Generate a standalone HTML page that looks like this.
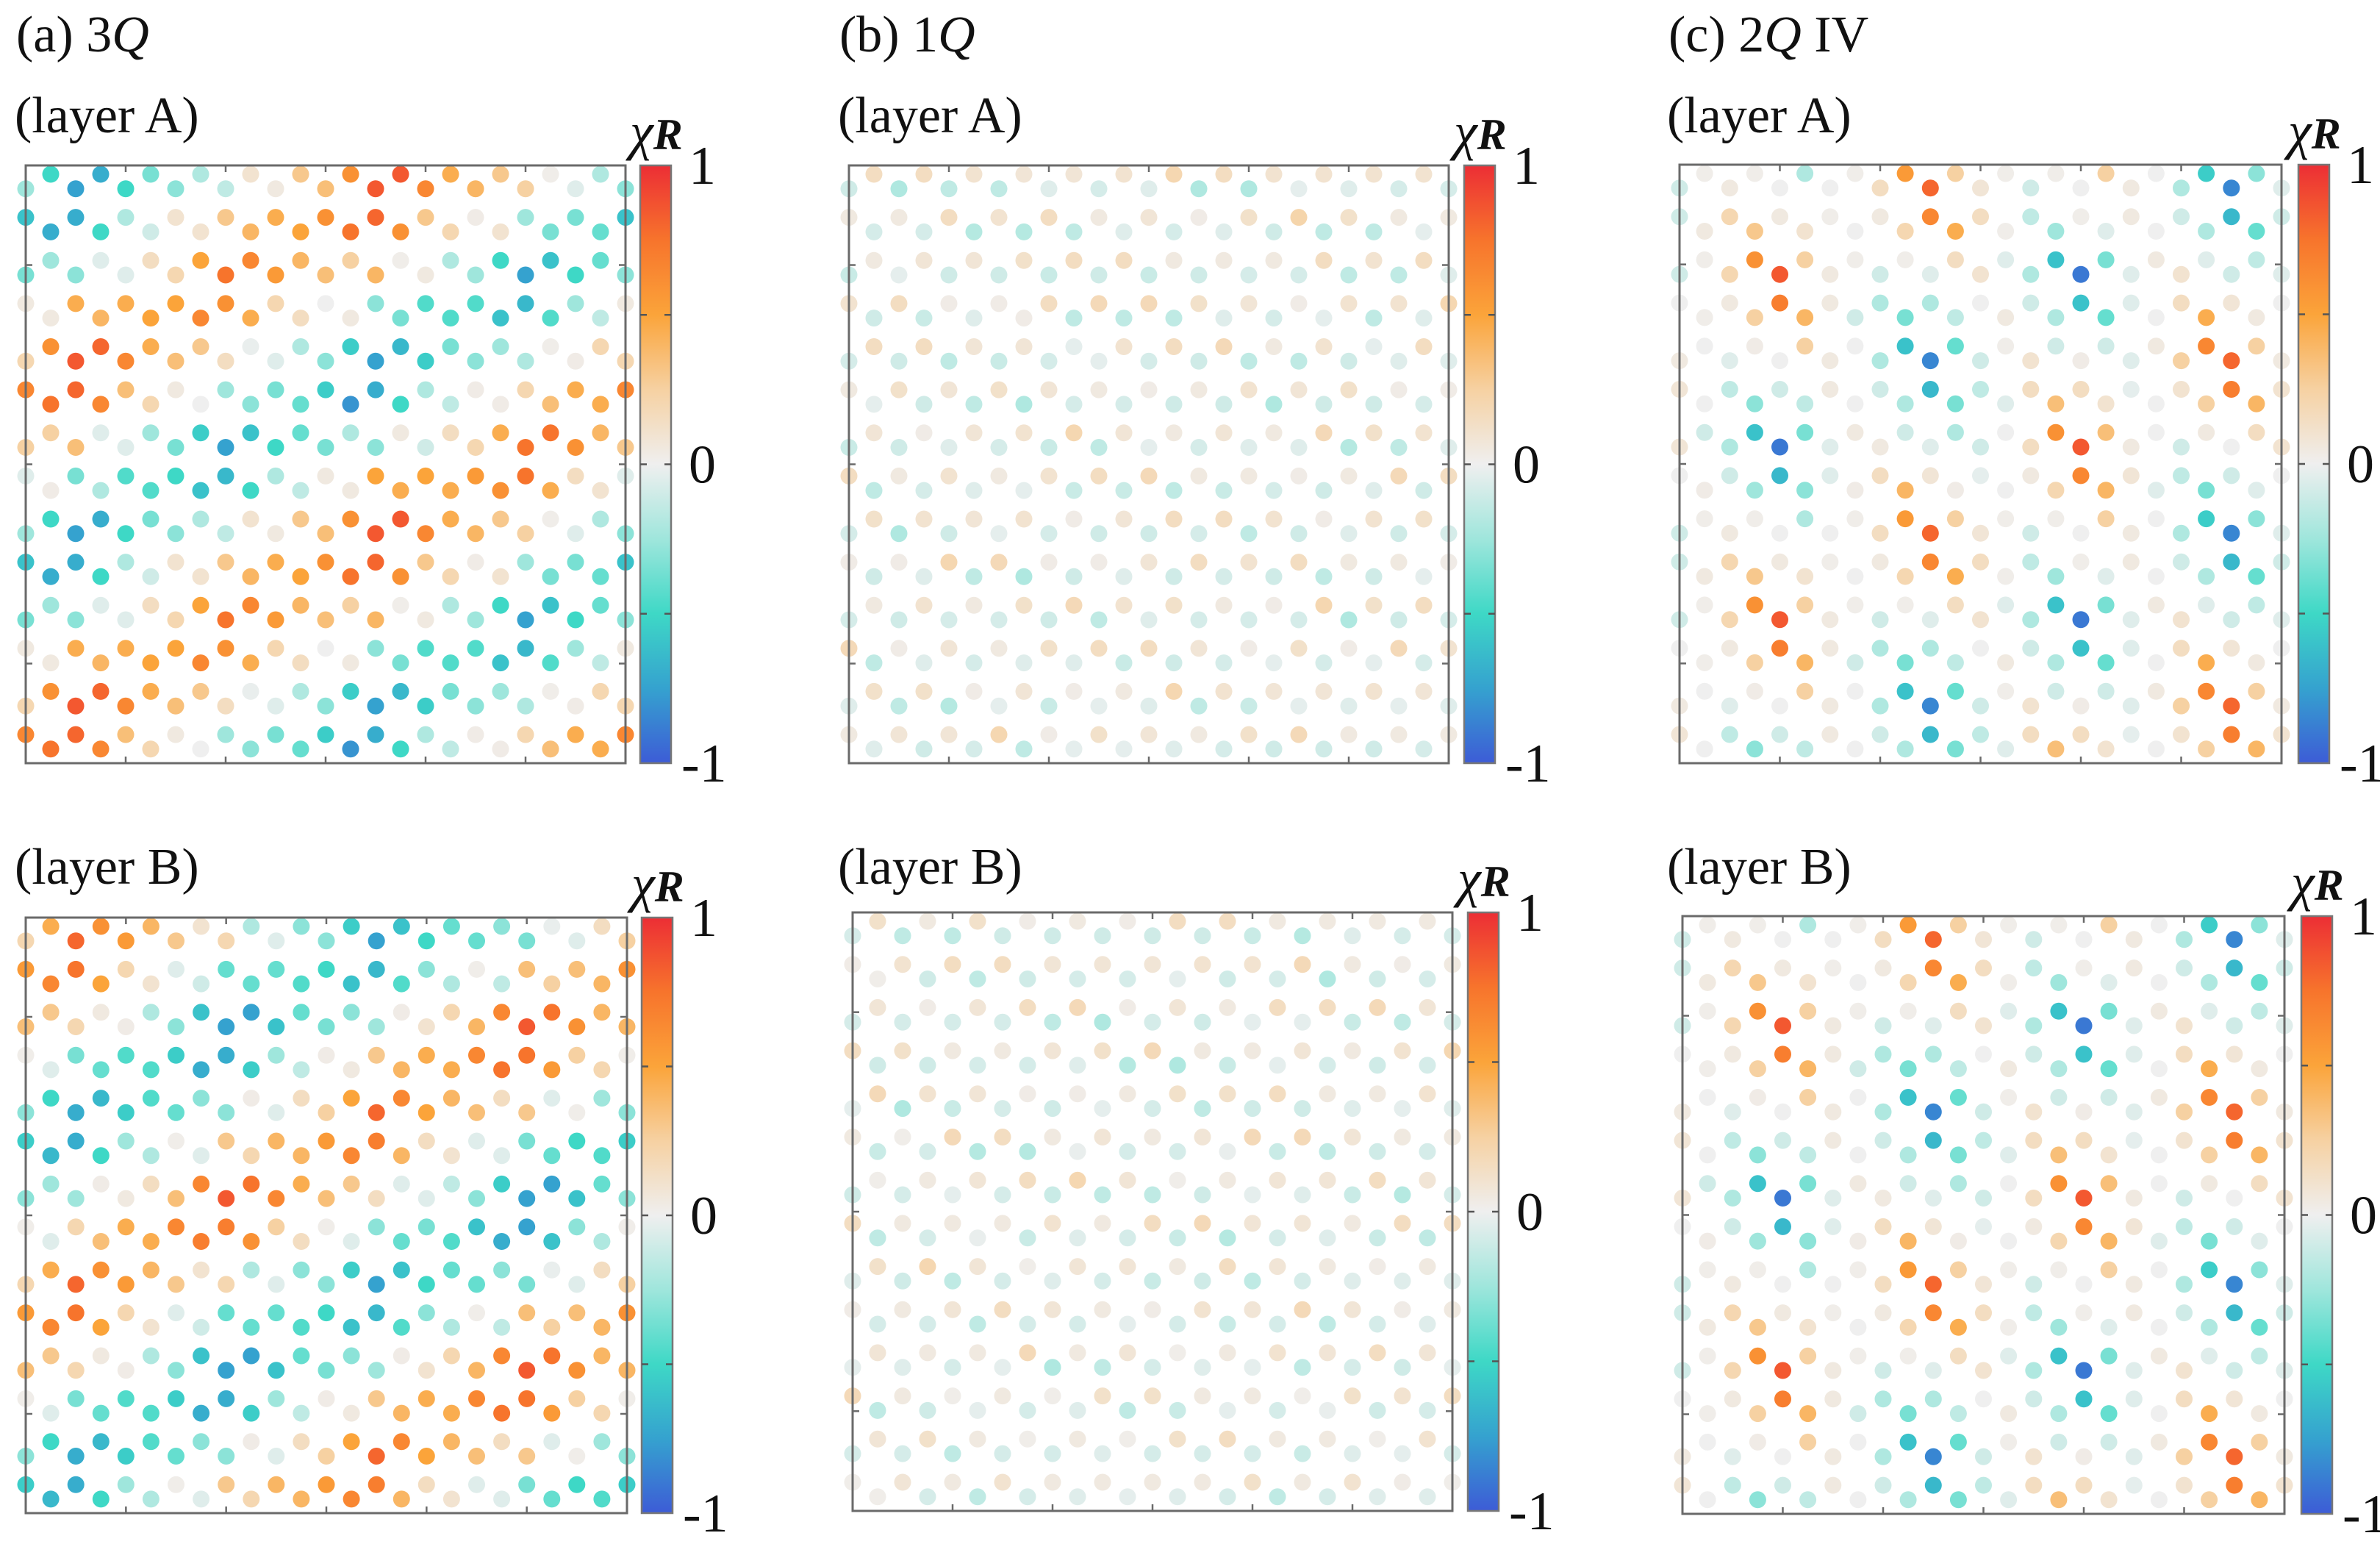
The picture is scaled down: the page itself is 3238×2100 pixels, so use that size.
<!DOCTYPE html>
<html><head><meta charset="utf-8"><style>
html,body{margin:0;padding:0;background:#fff;}
svg{display:block;}
text{font-family:"Liberation Serif",serif;fill:#111;}
</style></head><body>
<svg id="fig" width="3238" height="2100" viewBox="0 0 3238 2100" xmlns="http://www.w3.org/2000/svg">
<defs>
<linearGradient id="cmap" x1="0" y1="1" x2="0" y2="0">
<stop offset="0" stop-color="#3d5cd6"/><stop offset="0.125" stop-color="#35a2cf"/>
<stop offset="0.25" stop-color="#3ed8c6"/><stop offset="0.375" stop-color="#9fe6dc"/>
<stop offset="0.5" stop-color="#efefef"/><stop offset="0.625" stop-color="#f6d1a2"/>
<stop offset="0.75" stop-color="#fba43a"/><stop offset="0.875" stop-color="#f7742c"/>
<stop offset="1" stop-color="#ec2e35"/>
</linearGradient>
</defs>
<text x="22" y="70" font-size="70">(a) 3<tspan font-style="italic">Q</tspan></text>
<text x="1142" y="70" font-size="70">(b) 1<tspan font-style="italic">Q</tspan></text>
<text x="2270" y="70" font-size="70">(c) 2<tspan font-style="italic">Q</tspan> IV</text>
<g id="panels"></g>
</svg>
<script>
// ---- data: chi_R values per lattice row (odd rows of 12 / even rows of 13) ----
const rowsA3Q = [
[-0.5,-0.7,-0.35,-0.2,0.1,0.3,0.6,0.85,0.45,0.3,0.02,-0.2],
[-0.25,-0.75,-0.5,-0.3,-0.15,0.05,0.35,0.85,0.65,0.4,0.25,-0.05,-0.3],
[-0.6,-0.7,-0.2,0.1,0.3,0.45,0.6,0.8,0.3,0.03,-0.25,-0.35,-0.6],
[-0.7,-0.5,-0.1,0.1,0.4,0.5,0.75,0.6,0.2,0.1,-0.35,-0.4],
[-0.25,-0.05,0.15,0.5,0.65,0.4,0.25,0.02,-0.2,-0.5,-0.6,-0.4],
[-0.35,-0.3,-0.05,0.2,0.75,0.55,0.35,0.4,0.05,-0.25,-0.75,-0.5,-0.3],
[0.05,0.45,0.45,0.5,0.6,0.2,0.0,-0.3,-0.45,-0.45,-0.65,-0.25,0.05],
[0.05,0.4,0.5,0.65,0.45,0.15,0.05,-0.35,-0.45,-0.6,-0.45,-0.15],
[0.6,0.8,0.45,0.3,-0.02,-0.2,-0.55,-0.65,-0.35,-0.25,0.02,0.2],
[0.2,0.85,0.65,0.35,0.15,-0.05,-0.3,-0.75,-0.55,-0.3,-0.2,0.03,0.2],
[0.65,0.8,0.35,0.05,-0.25,-0.35,-0.55,-0.7,-0.2,0.03,0.2,0.45,0.65],
[0.75,0.65,0.2,0.0,-0.3,-0.4,-0.8,-0.5,-0.15,0.03,0.35,0.45],
[0.25,-0.05,-0.25,-0.55,-0.6,-0.4,-0.2,0.05,0.15,0.45,0.75,0.4],
[0.25,0.35,-0.05,-0.35,-0.75,-0.5,-0.35,-0.3,-0.1,0.2,0.75,0.6,0.3],
[-0.05,-0.35,-0.45,-0.5,-0.65,-0.2,0.05,0.5,0.5,0.55,0.75,0.15,-0.05],
[0.03,-0.2,-0.45,-0.6,-0.5,-0.15,0.05,0.45,0.45,0.6,0.45,0.1]
];
const rowsB3Q = [
[0.45,0.6,0.4,0.1,-0.2,-0.3,-0.55,-0.6,-0.4,-0.3,-0.02,0.15],
[0.2,0.8,0.55,0.3,0.2,-0.05,-0.3,-0.75,-0.5,-0.4,-0.35,-0.05,0.25],
[0.55,0.75,0.2,-0.05,-0.4,-0.4,-0.5,-0.65,-0.3,0.02,0.35,0.35,0.6],
[0.65,0.5,0.1,-0.1,-0.4,-0.45,-0.6,-0.45,-0.2,-0.15,0.25,0.4],
[0.3,0.05,-0.2,-0.6,-0.75,-0.4,-0.3,0.03,0.2,0.65,0.75,0.4],
[0.35,0.2,0.03,-0.3,-0.75,-0.6,-0.35,-0.25,0.1,0.4,0.85,0.6,0.4],
[0.02,-0.35,-0.45,-0.55,-0.7,-0.25,0.03,0.3,0.45,0.65,0.75,0.25,0.02],
[-0.05,-0.4,-0.45,-0.7,-0.55,-0.15,0.05,0.4,0.45,0.75,0.55,0.2],
[-0.5,-0.65,-0.45,-0.3,0.03,0.15,0.5,0.65,0.4,0.15,-0.05,-0.25],
[-0.3,-0.7,-0.55,-0.4,-0.3,-0.05,0.25,0.8,0.5,0.35,0.3,0.02,-0.3],
[-0.55,-0.7,-0.25,0.02,0.3,0.4,0.55,0.7,0.15,-0.05,-0.35,-0.5,-0.55],
[-0.65,-0.5,-0.2,-0.05,0.2,0.4,0.65,0.4,0.1,-0.05,-0.4,-0.45],
[-0.25,0.03,0.15,0.65,0.75,0.45,0.3,-0.05,-0.15,-0.55,-0.75,-0.4],
[-0.3,-0.25,0.05,0.35,0.85,0.65,0.35,0.15,-0.05,-0.3,-0.75,-0.6,-0.3],
[0.02,0.2,0.45,0.65,0.7,0.25,0.02,-0.3,-0.35,-0.6,-0.75,-0.3,0.02],
[-0.05,0.35,0.45,0.7,0.6,0.15,-0.05,-0.4,-0.45,-0.7,-0.6,-0.2]
];
const rowsA1Q = [
[.15,.15,.1,.08,.08,.1,.2,.15,.1,.1,.1,.1],
[-.1,-.2,-.15,-.15,-.05,-.08,-.05,-.2,-.2,-.03,-.05,-.08,-.08],
[.05,.05,.15,.1,.15,.05,.08,.03,.12,.22,.12,.05,.05],
[-.08,-.08,-.18,-.18,-.15,-.05,-.08,-.05,-.1,-.15,-.15,-.03],
[.05,.08,.08,.12,.15,.15,.05,.05,.05,.15,.1,.15],
[-.12,-.03,-.1,-.1,-.12,-.1,-.12,-.1,-.08,-.08,-.15,-.15,-.05],
[.1,.15,.03,.03,.15,.18,.18,.12,.08,.03,.1,.1,.2],
[-.1,-.12,-.05,.03,-.15,-.15,-.15,-.05,-.08,-.03,-.15,-.05],
[.15,.15,.08,.08,-.03,.1,.15,.18,.05,.1,-.03,.15],
[-.08,-.1,-.15,-.12,-.08,-.03,-.08,-.1,-.15,-.15,-.1,-.05,-.05],
[.05,.12,.08,.12,.08,.05,.03,.05,.1,.08,.12,.03,.03],
[-.03,-.1,-.15,-.2,-.08,-.08,-.1,-.1,-.2,-.1,-.1,-.08],
[.08,.03,.08,.1,.2,.08,.05,.08,.05,.18,.12,.1],
[-.12,-.1,-.05,-.08,-.12,-.15,-.03,-.08,-.05,-.05,-.18,-.15,-.05],
[.15,.05,.1,.05,.1,.15,.18,.05,.05,.03,.05,.18,.15],
[-.15,-.08,-.05,-.03,-.12,-.12,-.15,-.12,-.08,-.1,-.05,-.1],
[.12,.1,.08,.1,.03,.08,.15,.15,.1,.03,.1,.12],
[-.08,-.2,-.1,-.03,-.08,-.1,-.1,-.08,-.15,-.1,-.05,-.1,-.08],
[.03,.03,.2,.18,.03,.03,.08,.15,.1,.15,.05,.05,.03],
[-.1,-.05,-.15,-.2,-.1,-.05,-.1,-.08,-.1,-.15,-.1,-.03],
[.05,.1,.05,.12,.18,.1,.12,.05,.03,.2,.12,.15],
[-.08,-.1,-.08,-.08,-.1,-.15,-.05,-.08,-.08,-.08,-.2,-.1,-.08],
[.18,.03,.08,.05,.12,.15,.15,.08,.03,.12,.03,.18,.1],
[-.15,-.05,-.08,-.05,-.05,-.12,-.1,-.08,-.03,-.08,-.03,-.08],
[.12,.12,.03,.08,.03,.05,.2,.1,.08,.08,.1,.08],
[-.05,-.15,-.18,-.03,-.12,-.03,-.05,-.15,-.12,-.03,-.05,-.03,-.05],
[.05,.08,.08,.2,.03,.12,.08,.05,.12,.18,.05,.05,.05],
[-.05,-.1,-.08,-.15,-.03,-.03,-.05,-.08,-.1,-.1,-.1,-.08]
];
const rowsB1Q = [
[.12,.05,.12,.03,.05,.03,.15,.15,.05,.05,.05,.05],
[-.08,-.15,-.15,-.1,-.1,-.1,-.1,-.1,-.12,-.18,-.05,-.08,-.08],
[.03,.1,.15,.15,.08,.08,.08,.1,.1,.18,.05,.03,.05],
[.02,-.1,-.15,-.1,-.08,-.08,-.03,-.1,-.08,-.2,-.1,-.08],
[.08,.03,.08,.15,.18,.03,.08,.05,.15,.15,.18,.08],
[-.08,-.08,-.08,-.08,-.15,-.2,-.08,-.1,-.03,-.03,-.12,-.15,-.08],
[.15,.12,.05,.05,.08,.12,.18,.05,.05,.08,.05,.1,.2],
[-.1,-.1,-.08,-.08,-.05,-.18,-.2,-.12,-.03,-.08,-.1,-.08],
[.18,.1,.08,.03,.03,.05,.12,.12,.15,.05,.05,.1],
[-.03,-.2,-.12,-.08,-.1,-.03,-.08,-.15,-.1,-.1,-.05,-.03,-.05],
[.05,.02,.18,.15,.05,.08,.05,.08,.18,.18,.08,.05,.05],
[-.12,-.08,-.18,-.18,-.02,-.08,-.08,-.02,-.12,-.15,-.1,-.08],
[.02,.05,.08,.15,.2,.08,.02,.05,.08,.08,.15,.08],
[-.1,-.08,-.03,-.08,-.12,-.15,-.15,-.1,-.03,-.05,-.12,-.18,-.08],
[.15,.05,.05,.05,.1,.05,.15,.18,.08,.08,.05,.15,.15],
[-.15,-.08,-.02,-.12,-.05,-.08,-.12,-.18,-.08,-.05,-.12,-.15],
[.12,.2,.08,.02,.08,.08,.05,.15,.08,.05,.03,.05],
[-.05,-.1,-.15,-.08,-.05,-.08,-.12,-.1,-.15,-.08,-.05,-.05,-.05],
[.03,.05,.08,.15,.08,.05,.03,.1,.08,.18,.08,.03,.05],
[-.08,-.08,-.15,-.08,-.08,-.03,-.08,-.12,-.08,-.15,-.08,-.05],
[.08,.05,.05,.18,.05,.08,.02,.05,.1,.08,.15,.08],
[-.03,-.05,-.08,-.03,-.2,-.15,-.08,-.05,-.03,-.15,-.08,-.1,-.03],
[.18,.05,.02,.05,.02,.12,.12,.05,.05,.02,.12,.1,.15],
[-.15,-.1,-.03,-.08,-.05,-.15,-.12,-.03,-.08,-.02,-.1,-.08],
[.08,.12,.05,.02,.05,.02,.12,.15,.05,.05,.02,.1],
[-.08,-.08,-.15,-.08,-.08,-.05,-.08,-.08,-.08,-.12,-.05,-.03,-.08],
[.02,.08,.05,.1,.05,.05,.05,.05,.12,.05,.1,.03,.02],
[.02,-.08,-.15,-.08,-.05,-.03,-.05,-.08,-.15,-.08,-.05,-.05]
];
const rows2Q = [
[.02,.02,-.2,.02,.55,.25,.02,.02,.25,0,-.55,-.3],
[-.1,.05,0,0,.15,.8,.08,-.1,0,.05,-.2,-.85,-.05],
[-.1,.2,.05,.02,.05,.65,.15,-.15,.02,.05,-.1,-.65,-.1],
[.05,.3,.1,0,.2,.45,.02,-.25,-.05,0,-.2,-.4],
[.02,.6,.25,.02,.02,.15,-.05,-.6,-.35,.05,-.05,-.15],
[-.1,.2,.85,.05,-.1,-.05,.1,-.2,-.9,-.05,.1,-.1,-.05],
[0,.05,.7,.05,-.2,-.2,0,-.1,-.6,-.05,.15,.08,0],
[.02,.25,.4,-.1,-.35,-.15,.05,-.2,-.4,0,.45,.05],
[0,.03,.25,0,-.6,-.4,.02,-.1,-.1,.05,.65,.25],
[.05,-.05,0,.05,-.2,-.85,-.1,.1,.03,-.05,.25,.8,.05],
[.08,-.15,-.1,.05,-.1,-.65,-.15,.15,.15,-.03,.1,.7,.1],
[0,-.3,-.15,0,-.2,-.35,-.05,.35,.1,0,.25,.4],
[-.1,-.6,-.35,.05,-.1,-.2,0,.6,.35,0,.05,.15],
[.08,-.2,-.9,-.05,.05,-.05,-.1,.15,.85,.05,-.1,0,.1],
[0,-.1,-.65,-.05,.15,.08,-.03,.05,.65,.08,-.15,-.1,0],
[.03,-.25,-.3,.03,.4,.03,0,.2,.4,-.05,-.35,-.05]
];
const colorTicks = ["1","0","-1"];

// ---- geometry ----
const panels = [
 {id:"a-layer-a", rows: rowsA3Q.concat(rowsA3Q.slice(0,12)), x0:35, x1:851, y0:225, y1:1038, cb:871, label:"(layer A)", lx:20, ly:180},
 {id:"a-layer-b", rows: rowsB3Q.concat(rowsB3Q.slice(0,12)), x0:35, x1:853, y0:1248, y1:2058, cb:873, label:"(layer B)", lx:20, ly:1202},
 {id:"b-layer-a", rows: rowsA1Q, x0:1155, x1:1971, y0:225, y1:1038, cb:1992, label:"(layer A)", lx:1140, ly:180},
 {id:"b-layer-b", rows: rowsB1Q, x0:1160, x1:1976, y0:1241, y1:2055, cb:1997, label:"(layer B)", lx:1140, ly:1202},
 {id:"c-layer-a", rows: rows2Q.concat(rows2Q.slice(0,12)), x0:2285, x1:3104, y0:224, y1:1038, cb:3127, label:"(layer A)", lx:2268, ly:180},
 {id:"c-layer-b", rows: rows2Q.concat(rows2Q.slice(0,12)), x0:2289, x1:3108, y0:1246, y1:2059, cb:3131, label:"(layer B)", lx:2268, ly:1202}
];
const stops = [[-1,[61,92,214]],[-0.75,[53,162,207]],[-0.5,[62,216,198]],[-0.25,[159,230,220]],[0,[239,239,239]],[0.25,[246,209,162]],[0.5,[251,164,58]],[0.75,[247,116,44]],[1,[236,46,53]]];
function cmap(v){
  v=Math.max(-1,Math.min(1,v));
  for(let i=0;i<stops.length-1;i++){
    const [a,ca]=stops[i],[b,cbb]=stops[i+1];
    if(v<=b){const t=(v-a)/(b-a);const c=ca.map((x,j)=>Math.round(x+(cbb[j]-x)*t));return `rgb(${c[0]},${c[1]},${c[2]})`;}
  }
  return "rgb(236,46,53)";
}
const NS="http://www.w3.org/2000/svg";
const root=document.getElementById("panels");
function mk(tag,attrs,parent){const e=document.createElementNS(NS,tag);for(const k in attrs)e.setAttribute(k,attrs[k]);parent.appendChild(e);return e;}

panels.forEach(p=>{
  const g=mk("g",{},root);
  
  
  const W=p.x1-p.x0,H=p.y1-p.y0;
  const xAxis=k=>p.x0+k*W/24;
  const yAxis=r=>p.y0+H*(0.0148+Math.floor(r/2)*0.0721+(r%2)*0.0243);
  const lab=mk("text",{x:p.lx,y:p.ly,"font-size":70},g);
  lab.textContent=p.label;
  
  
  p.rows.forEach((row,r)=>{
    const pair=Math.floor(r/2);
    const odd = (pair%2===0) ? (r%2===0) : (r%2===1);
    row.forEach((v,i)=>{
      const k = odd ? 2*i+1 : 2*i;
      const c=mk("circle",{cx:xAxis(k).toFixed(1),cy:yAxis(r).toFixed(1),r:11.5,fill:cmap(v)},g);
      
      
    });
  });
  const fr=mk("rect",{x:p.x0,y:p.y0,width:W,height:H,fill:"none",stroke:"#6a6a6a","stroke-width":3},g);
  
  
  for(let k=4;k<=20;k+=4){
    const x=xAxis(k);
    mk("line",{x1:x,y1:p.y1,x2:x,y2:p.y1-9,stroke:"#6a6a6a","stroke-width":2.5},g);
    mk("line",{x1:x,y1:p.y0,x2:x,y2:p.y0+9,stroke:"#6a6a6a","stroke-width":2.5},g);
  }
  [1/6,0.5,5/6].forEach(f=>{
    const y=p.y0+H*f;
    mk("line",{x1:p.x0,y1:y,x2:p.x0+9,y2:y,stroke:"#6a6a6a","stroke-width":2.5},g);
    mk("line",{x1:p.x1,y1:y,x2:p.x1-9,y2:y,stroke:"#6a6a6a","stroke-width":2.5},g);
  });
  const cb=mk("rect",{x:p.cb,y:p.y0,width:42,height:H,fill:"url(#cmap)",stroke:"#777","stroke-width":2.5},g);
  
  
  [0.25,0.5,0.75].forEach(f=>{
    const y=p.y0+H*f;
    mk("line",{x1:p.cb,y1:y,x2:p.cb+9,y2:y,stroke:"#555","stroke-width":2.5},g);
    mk("line",{x1:p.cb+42,y1:y,x2:p.cb+33,y2:y,stroke:"#555","stroke-width":2.5},g);
  });
  const t=mk("text",{x:p.cb-14,y:p.y0-22,"font-size":72},g);
  t.innerHTML='<tspan font-style="italic">χ</tspan><tspan font-style="italic" font-weight="bold" font-size="60">R</tspan>';
  
  
  colorTicks.forEach((s,i)=>{
    const y=p.y0+H*(i/2)+25;
    const tt=mk("text",{x:p.cb+(s==="-1"?56:66),y:y,"font-size":74},g);
    tt.textContent=s;
    
    
  });
});
</script>
</body></html>
